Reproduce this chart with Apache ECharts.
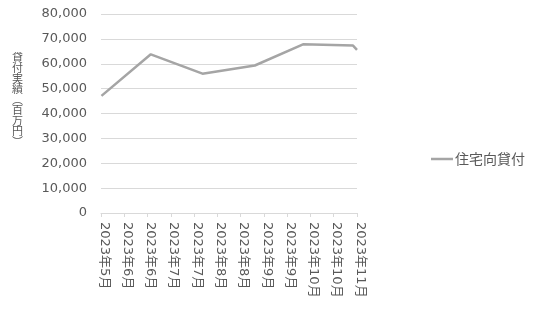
<!DOCTYPE html>
<html><head><meta charset="utf-8">
<script src="https://cdn.jsdelivr.net/npm/echarts@6/dist/echarts.min.js"></script>
<style>html,body{margin:0;padding:0;background:#fff}#c{width:536px;height:310px}</style>
</head><body><div id="c"></div>
<script>
const tickLabels = ['2023年5月','2023年6月','2023年6月','2023年7月','2023年7月','2023年8月','2023年8月','2023年9月','2023年9月','2023年10月','2023年10月','2023年11月'];
// x positions in tick units (date axis)
const xPos = [0.02, 2.14, 4.36, 6.61, 8.68, 10.83, 11];
const values = [47100, 63800, 56000, 59300, 67800, 67300, 65600];
const seriesName = '住宅向貸付';
const yNameChars = ['貸','付','実','績','︵','百','万','円','︶'];

const cjk = '"Noto Sans CJK JP", sans-serif';
const num = '"DejaVu Sans", "Noto Sans CJK JP", sans-serif';
const chart = echarts.init(document.getElementById('c'));
chart.setOption({
  animation: false,
  grid: {left: 101, right: 179, top: 14, bottom: 97, containLabel: false},
  legend: {
    data: [{name: seriesName, icon: 'rect'}],
    left: 426, top: 147, padding: 5, itemWidth: 22, itemHeight: 2.5, itemGap: 5,
    textStyle: {color: '#595959', fontSize: 14, fontFamily: cjk, padding: [0, 0, 0, -3]}
  },
  graphic: [{
    type: 'text', left: 12, top: 52,
    style: {text: yNameChars.join('\n'), fill: '#595959', fontSize: 11, lineHeight: 10.5, fontFamily: cjk, align: 'center'}
  }],
  xAxis: {
    type: 'value', min: 0, max: tickLabels.length - 1, interval: 1,
    axisLine: {show: true, lineStyle: {color: '#d9d9d9', width: 1}},
    axisTick: {show: true, length: 4, lineStyle: {color: '#d9d9d9'}},
    splitLine: {show: false},
    axisLabel: {rotate: -90, margin: 9, color: '#595959', fontSize: 13, fontFamily: num,
      verticalAlign: 'bottom', lineHeight: 6,
      formatter: v => tickLabels[Math.round(v)] || ''}
  },
  yAxis: {
    type: 'value', min: 0, max: 80000, interval: 10000,
    axisLine: {show: false}, axisTick: {show: false},
    splitLine: {lineStyle: {color: '#d9d9d9', width: 1}},
    axisLabel: {color: '#595959', fontSize: 13, fontFamily: num, margin: 14,
      formatter: v => v.toLocaleString('en-US')}
  },
  series: [{
    name: seriesName, type: 'line', symbol: 'none',
    data: xPos.map((x, i) => [x, values[i]]),
    lineStyle: {color: '#a5a5a5', width: 2.5}, itemStyle: {color: '#a5a5a5'}
  }]
});
</script></body></html>
